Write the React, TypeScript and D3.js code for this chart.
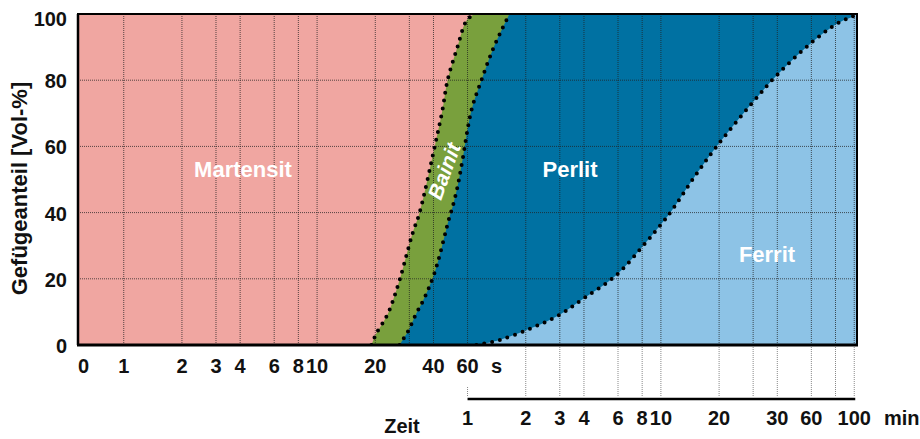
import React from "react";
import * as d3 from "d3";

// Time axis ticks (seconds row and minutes row)
const secGrid = [1, 2, 3, 4, 6, 8, 10, 20, 30, 40, 60];
const secLabelValues = [1, 2, 3, 4, 6, 8, 10, 20, 40, 60];
const minGrid = [1, 2, 3, 4, 6, 8, 10, 20, 30, 40, 60, 80, 100];
const minLabelValues = [1, 2, 3, 4, 6, 8, 10, 20, 40, 60, 100];
const minLabelTexts = ["1", "2", "3", "4", "6", "8", "10", "20", "30", "60", "100"];
const yTicks = [0, 20, 40, 60, 80, 100];

// Boundary curves: time in seconds, phase fraction in Vol-%
const martBainT = [19.1, 20.3, 22.3, 23.7, 26.7, 31.2, 33.9, 40.6, 44.5, 47.3, 53.2, 59.3, 65.2];
const martBainP = [0, 3.6, 7.5, 10.6, 19.6, 33.8, 40, 60, 71, 80, 90, 98, 100];

const bainPerlT = [26.7, 27.7, 29.4, 32.7, 35.1, 40.5, 48.4, 50.2, 53.2, 56.5, 62.9, 70.8, 80.7, 89.8, 98.8];
const bainPerlP = [0, 1.5, 3.9, 9.7, 13, 21.8, 38.7, 41.7, 47.7, 55.9, 71, 80, 89, 95, 100];

const perlFerrT = [66.7, 87.7, 128.4, 179, 241, 352.8, 504, 609.6, 686.5, 871, 1159, 1778, 2394, 3630, 4605, 5313, 5842, 6054];
const perlFerrP = [0, 1.5, 5.1, 9.1, 14.2, 21.1, 31.1, 36.9, 40.8, 49.8, 59.8, 73.1, 81.6, 91.5, 96.1, 98.2, 99.1, 100];

const phaseNames = ["Martensit", "Bainit", "Perlit", "Ferrit"];
const phaseColors = ["#f0a6a1", "#79a03d", "#0071a2", "#8dc3e6"];

const W = 920;
const H = 439;
const L = 78, R = 857, T = 14, B = 345;

export default function App() {
  const x = d3.scaleLog().domain([0.58, 6200]).range([L, R]);
  const y = d3.scaleLinear().domain([0, 100]).range([B, T]);

  const toPts = (ts: number[], ps: number[]) => ts.map((t, i) => [x(t), y(ps[i])] as [number, number]);
  const line = d3.line().curve(d3.curveCatmullRom.alpha(0.5));

  const ptsA = toPts(martBainT, martBainP);
  const ptsB = toPts(bainPerlT, bainPerlP);
  const ptsC = toPts(perlFerrT, perlFerrP);

  const xr = x.range()[1];
  const close = `L${xr},${y(100)}L${xr},${y(0)}Z`;
  const areaA = line(ptsA) + close;
  const areaB = line(ptsB) + close;
  const areaC = line(ptsC) + close;

  const font = "'Liberation Sans', Arial, sans-serif";
  const gridStyle = { stroke: "#222", strokeOpacity: 0.75, strokeWidth: 1, strokeDasharray: "1 1" };
  const minAxisY = 399;

  return (
    <svg width={W} height={H} style={{ position: "absolute", left: 0, top: 0, background: "#fff" }} fontFamily={font}>
      <defs>
        <clipPath id="plot">
          <rect x={L} y={T} width={R - L} height={B - T} />
        </clipPath>
      </defs>
      <g clipPath="url(#plot)">
        <rect x={L} y={T} width={R - L} height={B - T} fill={phaseColors[0]} />
        <path d={areaA} fill={phaseColors[1]} />
        <path d={areaB} fill={phaseColors[2]} />
        <path d={areaC} fill={phaseColors[3]} />
        {/* grid */}
        {yTicks.filter((v) => v > 0 && v < 100).map((v) => (
          <line key={"h" + v} x1={L} x2={R} y1={y(v)} y2={y(v)} {...gridStyle} />
        ))}
        {secGrid.map((v) => (
          <line key={"vs" + v} x1={x(v)} x2={x(v)} y1={T} y2={B} {...gridStyle} />
        ))}
        {minGrid.filter((v) => v > 1).map((v) => (
          <line key={"vm" + v} x1={x(v * 60)} x2={x(v * 60)} y1={T} y2={B} {...gridStyle} />
        ))}
        {/* boundary curves */}
        {[ptsA, ptsB, ptsC].map((p, i) => (
          <path key={"c" + i} d={line(p) || ""} fill="none" stroke="#000" strokeWidth={4}
            strokeDasharray="0 8" strokeLinecap="round" />
        ))}
      </g>
      {/* frame */}
      <rect x={L} y={T} width={R - L} height={B - T} fill="none" stroke="#000" strokeWidth={2} />
      <line x1={L - 1} x2={R + 1} y1={B} y2={B} stroke="#000" strokeWidth={3} />
      <line x1={L} x2={L} y1={T} y2={B} stroke="#000" strokeWidth={2.5} />

      {/* minute row grid extensions */}
      {minGrid.filter((v) => v > 1).map((v) => (
        <line key={"ext" + v} x1={x(v * 60)} x2={x(v * 60)} y1={B + 2} y2={minAxisY - 2}
          stroke="#888" strokeWidth={1} strokeDasharray="1 1" />
      ))}
      <line x1={x(60)} x2={x(60)} y1={minAxisY - 12} y2={minAxisY - 2} stroke="#888" strokeWidth={1} strokeDasharray="1 1" />
      <line x1={x(60)} x2={x(6000) + 1} y1={minAxisY} y2={minAxisY} stroke="#000" strokeWidth={2.5} />

      {/* y ticks */}
      {yTicks.map((v) => (
        <text key={"yt" + v} x={67} y={y(v) + (v === 100 ? 5 : 1)} textAnchor="end" dominantBaseline="central"
          fontSize={20} fontWeight="bold" fill="#111">{v}</text>
      ))}
      <text transform={`translate(19,${(77 + 300) / 2}) rotate(-90)`} textAnchor="middle" dominantBaseline="central"
        fontSize={22} fontWeight="bold" fill="#111">Gefügeanteil [Vol-%]</text>

      {/* seconds labels */}
      <text x={L} y={366} textAnchor="start" dominantBaseline="central" fontSize={20} fontWeight="bold" fill="#111">0</text>
      {secLabelValues.map((v) => (
        <text key={"sl" + v} x={x(v)} y={366} textAnchor="middle" dominantBaseline="central"
          fontSize={20} fontWeight="bold" fill="#111">{v}</text>
      ))}
      <text x={x(60) + 29} y={366} textAnchor="middle" dominantBaseline="central" fontSize={20} fontWeight="bold" fill="#111">s</text>

      {/* minutes labels */}
      {minLabelValues.map((v, i) => (
        <text key={"ml" + v} x={x(v * 60)} y={418} textAnchor="middle" dominantBaseline="central"
          fontSize={20} fontWeight="bold" fill="#111">{minLabelTexts[i]}</text>
      ))}
      <text x={884} y={418} textAnchor="start" dominantBaseline="central" fontSize={20} fontWeight="bold" fill="#111">min</text>
      <text x={402} y={426} textAnchor="middle" dominantBaseline="central" fontSize={20} fontWeight="bold" fill="#111">Zeit</text>

      {/* phase labels */}
      <text x={243} y={169} textAnchor="middle" dominantBaseline="central" fontSize={22} fontWeight="bold" fill="#fff">{phaseNames[0]}</text>
      <text transform={`translate(444,171) rotate(-70)`} textAnchor="middle" dominantBaseline="central" fontSize={21}
        fontWeight="bold" fontStyle="italic" fill="#fff">{phaseNames[1]}</text>
      <text x={570} y={169} textAnchor="middle" dominantBaseline="central" fontSize={22} fontWeight="bold" fill="#fff">{phaseNames[2]}</text>
      <text x={767} y={254} textAnchor="middle" dominantBaseline="central" fontSize={22} fontWeight="bold" fill="#fff">{phaseNames[3]}</text>
    </svg>
  );
}
